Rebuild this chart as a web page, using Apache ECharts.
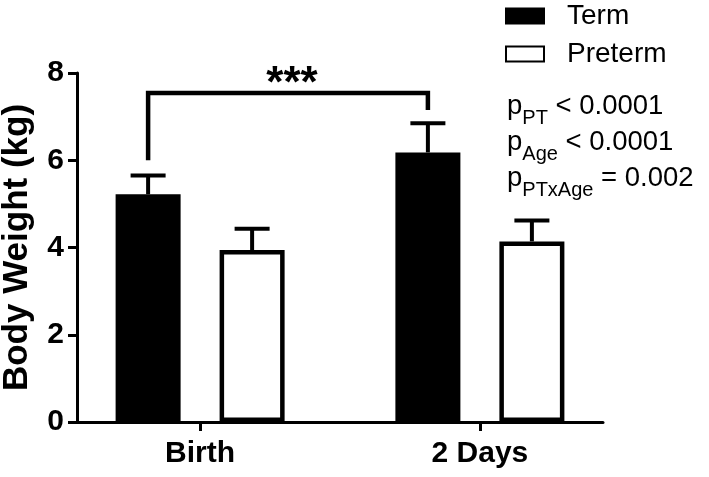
<!DOCTYPE html>
<html>
<head>
<meta charset="utf-8">
<script src="https://cdn.jsdelivr.net/npm/echarts@6/dist/echarts.min.js"></script>
<style>html,body{margin:0;padding:0;background:#fff}#chart{width:709px;height:477px}</style>
</head>
<body>
<div id="chart"></div>
<script>
// ---- data ----
const categories = ['Birth', '2 Days'];
const seriesNames = ['Term', 'Preterm'];
const termMean = [5.22, 6.18];
const termErr = [0.43, 0.67];
const pretermMean = [3.94, 4.14];
const pretermErr = [0.49, 0.48];
const yTicks = [0, 2, 4, 6, 8];
// significance bracket: from category index 0 (Term) to category index 1 (Term)
const bracketCats = [0, 1];
const bracketEnds = [6.0, 7.15];
const bracketTop = 7.54;
const bracketLabel = '***';
const pValueLines = [
  ['p', 'PT', ' < 0.0001'],
  ['p', 'Age', ' < 0.0001'],
  ['p', 'PTxAge', ' = 0.002']
];

// ---- layout constants ----
const FONT = '"Liberation Sans", Arial, Helvetica, sans-serif';
const barWidth = 65;
const barGapPct = 60;
const halfSpacing = barWidth * (1 + barGapPct / 100) / 2; // px offset of each bar from category centre
const capHalf = 17.5;

const chart = echarts.init(document.getElementById('chart'), null, {renderer: 'canvas'});

function barData(means) { return means.map((v, i) => [i + 1, v]); }
function errData(means, errs) { return means.map((v, i) => [i + 1, v, errs[i]]); }

function errRender(offsetPx) {
  return function (params, api) {
    const x = api.value(0), m = api.value(1), e = api.value(2);
    const p0 = api.coord([x, m]);
    const p1 = api.coord([x, m + e]);
    const cx = p0[0] + offsetPx;
    const st = {stroke: '#000', lineWidth: 4};
    return {type: 'group', children: [
      {type: 'line', shape: {x1: cx, y1: p0[1], x2: cx, y2: p1[1]}, style: st},
      {type: 'line', shape: {x1: cx - capHalf, y1: p1[1], x2: cx + capHalf, y2: p1[1]}, style: st}
    ]};
  };
}

function bracketRender(params, api) {
  const a = api.value(0), b = api.value(1), ly = api.value(2), ry = api.value(3), ty = api.value(4);
  const pl = api.coord([a, ly]), pr = api.coord([b, ry]);
  const tl = api.coord([a, ty]);
  const xl = pl[0] - halfSpacing, xr = pr[0] - halfSpacing;
  return {type: 'group', children: [
    {type: 'polyline', shape: {points: [[xl, pl[1]], [xl, tl[1]], [xr, tl[1]], [xr, pr[1]]]},
      style: {stroke: '#000', lineWidth: 4.5, fill: null, lineJoin: 'miter'}},
    {type: 'text', x: (xl + xr) / 2 + 4, y: tl[1] - 8,
      style: {text: bracketLabel, fill: '#000', font: 'bold 44px ' + FONT, align: 'center', verticalAlign: 'middle'}}
  ]};
}

const richText = pValueLines.map(l => '{m|' + l[0] + '}{s|' + l[1] + '}{m|' + l[2] + '}').join('\n');

const option = {
  animation: false,
  backgroundColor: '#fff',
  grid: {left: 77, right: 106, top: 73, bottom: 55, containLabel: false, outerBoundsMode: 'none'},
  legend: {
    orient: 'vertical', left: 505, top: 2, padding: 0,
    itemWidth: 38, itemHeight: 15, itemGap: 10, icon: 'rect',
    textStyle: {fontSize: 28, fontFamily: FONT, color: '#000', padding: [0, 0, 0, 18], lineHeight: 28},
    data: seriesNames
  },
  xAxis: {
    type: 'value', min: 0.56, max: 2.44,
    splitLine: {show: false},
    axisLine: {show: true, lineStyle: {color: '#000', width: 3}},
    axisTick: {show: true, customValues: [1, 2], length: 9, lineStyle: {color: '#000', width: 3}},
    axisLabel: {customValues: [1, 2], formatter: v => categories[Math.round(v) - 1] || '',
      color: '#000', fontSize: 30, fontWeight: 'bold', fontFamily: FONT, margin: 17}
  },
  yAxis: {
    type: 'value', min: 0, max: 8, interval: 2,
    name: 'Body Weight (kg)', nameLocation: 'middle', nameRotate: 90, nameGap: 42,
    nameTextStyle: {color: '#000', fontSize: 35, fontWeight: 'bold', fontFamily: FONT},
    splitLine: {show: false},
    axisLine: {show: true, lineStyle: {color: '#000', width: 3}},
    axisTick: {show: true, length: 9, lineStyle: {color: '#000', width: 3}},
    axisLabel: {color: '#000', fontSize: 30, fontWeight: 'bold', fontFamily: FONT, margin: 13,
      formatter: v => yTicks.indexOf(v) >= 0 ? String(v) : ''}
  },
  series: [
    {name: seriesNames[0], type: 'bar', data: barData(termMean), barWidth: barWidth, barGap: barGapPct + '%',
      itemStyle: {color: '#000', borderColor: '#000', borderWidth: 4}, z: 3},
    {name: seriesNames[1], type: 'bar', data: barData(pretermMean), barWidth: barWidth, barGap: barGapPct + '%',
      itemStyle: {color: '#fff', borderColor: '#000', borderWidth: 4.5}, z: 3},
    {type: 'custom', data: errData(termMean, termErr), renderItem: errRender(-halfSpacing),
      encode: {x: 0, y: [1, 2]}, z: 2, silent: true},
    {type: 'custom', data: errData(pretermMean, pretermErr), renderItem: errRender(halfSpacing),
      encode: {x: 0, y: [1, 2]}, z: 2, silent: true},
    {type: 'custom', clip: false, silent: true, z: 4,
      data: [[bracketCats[0] + 1, bracketCats[1] + 1, bracketEnds[0], bracketEnds[1], bracketTop]],
      encode: {x: [0, 1], y: [2, 3, 4]}, renderItem: bracketRender}
  ],
  graphic: [{
    type: 'text', left: 507, top: 92,
    style: {
      text: richText,
      rich: {
        m: {fontSize: 27.5, fontFamily: FONT, fill: '#000', lineHeight: 36, verticalAlign: 'top'},
        s: {fontSize: 20, fontFamily: FONT, fill: '#000', lineHeight: 20, padding: [16, 0, 0, 0], verticalAlign: 'top'}
      }
    }
  }]
};
chart.setOption(option);
</script>
</body>
</html>
